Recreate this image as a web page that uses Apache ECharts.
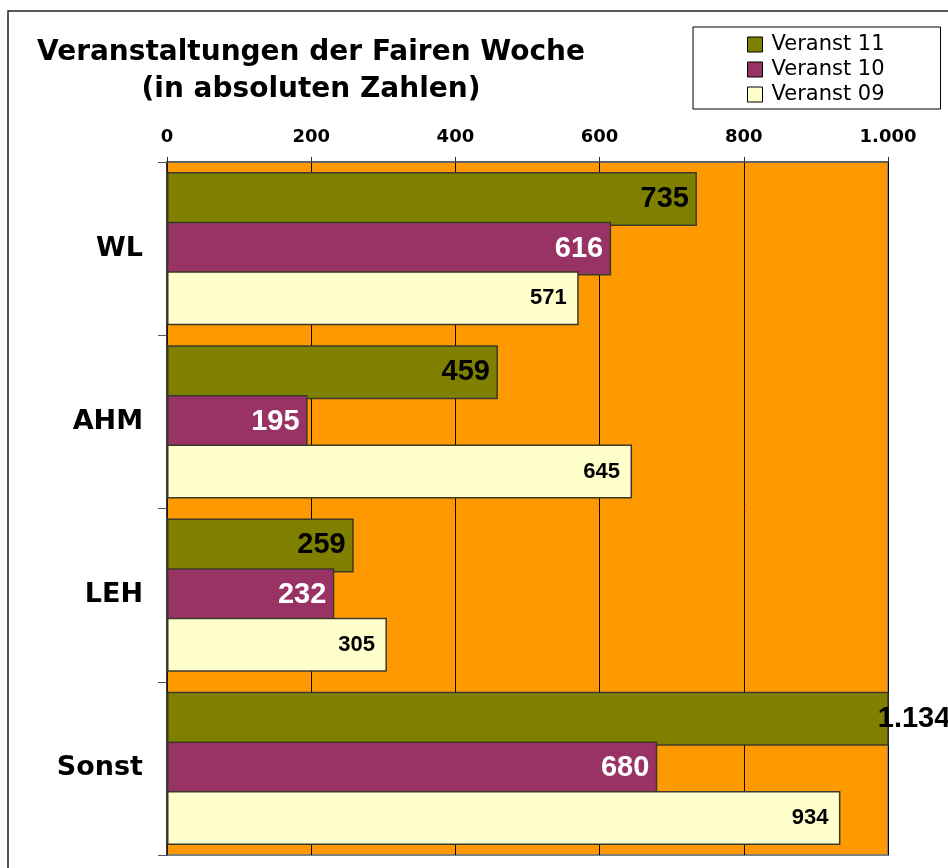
<!DOCTYPE html>
<html>
<head>
<meta charset="utf-8">
<script src="https://cdn.jsdelivr.net/npm/echarts@6/dist/echarts.min.js"></script>
<style>
  html, body { margin: 0; padding: 0; background: #fff; }
  #chart { width: 948px; height: 868px; }
</style>
</head>
<body>
<div id="chart"></div>
<script>
const categories = ['WL', 'AHM', 'LEH', 'Sonst']
const seriesNames = ['Veranst 11', 'Veranst 10', 'Veranst 09']
const veranst11 = [735, 459, 259, 1134]
const veranst10 = [616, 195, 232, 680]
const veranst09 = [571, 645, 305, 934]
const xTicks = [0, 200, 400, 600, 800, 1000]

const colors = ['#808000', '#993366', '#FFFFCC']
const labelColors = ['#000', '#fff', '#000']
const labelSizes = [29, 29, 22]

// 1134 -> "1.134"
const fmt = v => String(v).replace(/\B(?=(\d{3})+(?!\d))/g, '.')

const chart = echarts.init(document.getElementById('chart'))

const makeSeries = (name, values, i) => ({
  name,
  type: 'bar',
  barGap: '-8%',
  barCategoryGap: '11.5%',
  data: values.map(v => {
    // bar runs past the axis end: label sits just over the edge
    if (v > xTicks[xTicks.length - 1]) {
      return { value: v, label: { position: 'right', distance: 0, offset: [-11, 0] } }
    }
    return v
  }),
  itemStyle: { color: colors[i], borderColor: '#3a3a2a', borderWidth: 1.5 },
  label: {
    show: true,
    position: 'insideRight',
    distance: i === 2 ? 12 : 8,
    formatter: p => fmt(p.value),
    color: labelColors[i],
    fontFamily: 'Liberation Sans',
    fontWeight: 'bold',
    fontSize: labelSizes[i],
  },
})

chart.setOption({
  backgroundColor: '#fff',
  animation: false,
  title: {
    text: 'Veranstaltungen der Fairen Woche\n(in absoluten Zahlen)',
    left: 306,
    top: 29,
    textAlign: 'center',
    textStyle: {
      fontFamily: 'DejaVu Sans',
      fontWeight: 'bold',
      fontSize: 28,
      lineHeight: 37,
      color: '#000',
    },
  },
  legend: {
    data: seriesNames,
    orient: 'vertical',
    left: 693,
    top: 27,
    padding: [7, 56, 4, 54],
    itemWidth: 15,
    itemHeight: 15,
    itemGap: 4,
    icon: 'rect',
    borderColor: '#000',
    borderWidth: 1,
    itemStyle: { borderColor: '#000', borderWidth: 1 },
    textStyle: { fontFamily: 'DejaVu Sans', fontSize: 21, color: '#000', padding: [0, 0, 0, 4] },
  },
  grid: {
    left: 167,
    top: 162,
    right: 60,
    bottom: 13,
    show: true,
    backgroundColor: '#FF9900',
    borderColor: '#808080',
    borderWidth: 2,
  },
  xAxis: {
    type: 'value',
    position: 'top',
    min: xTicks[0],
    max: xTicks[xTicks.length - 1],
    interval: 200,
    axisLine: { show: true, lineStyle: { color: '#555', width: 1.5 } },
    axisTick: { show: true, length: 5, lineStyle: { color: '#333' } },
    splitLine: { show: true, lineStyle: { color: '#000', width: 1 } },
    axisLabel: {
      margin: 16,
      formatter: v => fmt(v),
      fontFamily: 'DejaVu Sans',
      fontWeight: 'bold',
      fontSize: 18,
      color: '#000',
    },
  },
  yAxis: {
    type: 'category',
    inverse: true,
    data: categories,
    axisLine: { show: true, lineStyle: { color: '#222', width: 1.5 } },
    axisTick: { show: true, length: 9, lineStyle: { color: '#555' } },
    axisLabel: {
      margin: 24,
      fontFamily: 'DejaVu Sans',
      fontWeight: 'bold',
      fontSize: 27,
      color: '#000',
    },
  },
  graphic: [
    {
      type: 'rect',
      shape: { x: 8, y: 11, width: 1000, height: 1000 },
      style: { fill: 'none', stroke: '#222', lineWidth: 1.5 },
      silent: true,
    },
  ],
  series: [
    makeSeries(seriesNames[0], veranst11, 0),
    makeSeries(seriesNames[1], veranst10, 1),
    makeSeries(seriesNames[2], veranst09, 2),
  ],
})
</script>
</body>
</html>
